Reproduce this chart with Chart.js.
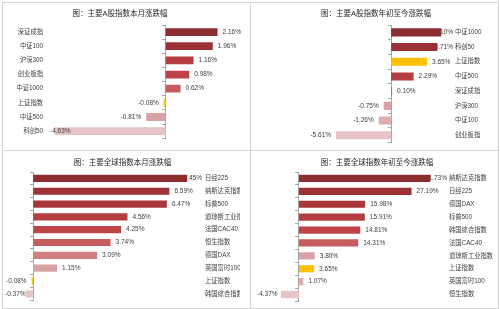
<!DOCTYPE html>
<html><head><meta charset="utf-8">
<script src="https://cdn.jsdelivr.net/npm/chart.js@4.4.0/dist/chart.umd.min.js"></script>
<style>
html,body{margin:0;padding:0;background:#fff;width:500px;height:309px;overflow:hidden;position:relative}
canvas{position:absolute}
.frame{position:absolute;left:2px;top:2px;width:495px;height:305px;border:1px solid #d4d4d4}
.vl{position:absolute;left:250px;top:2px;width:1px;height:306px;background:#d4d4d4}
.hl{position:absolute;left:2px;top:150px;width:496px;height:1px;background:#d4d4d4}
</style></head><body>
<div class="frame"></div><div class="vl"></div><div class="hl"></div>
<canvas id="c1" width="246" height="146" style="left:3px;top:3px"></canvas>
<canvas id="c2" width="246" height="146" style="left:251px;top:3px"></canvas>
<canvas id="c3" width="249" height="156" style="left:3px;top:151px"></canvas>
<canvas id="c4" width="246" height="156" style="left:251px;top:151px"></canvas>
<script>
// ---- data ----
const aMonthTitle = '图：主要A股指数本月涨跌幅';
const aMonthLabels = ['深证成指','中证100','沪深300','创业板指','中证1000','上证指数','中证500','科创50'];
const aMonthValues = [2.16, 1.96, 1.16, 0.98, 0.62, -0.08, -0.81, -4.63];

const aYtdTitle = '图：主要A股指数年初至今涨跌幅';
const aYtdLabels = ['中证1000','科创50','上证指数','中证500','深证成指','沪深300','中证100','创业板指'];
const aYtdValues = [5.10, 4.71, 3.65, 2.29, 0.10, -0.75, -1.26, -5.61];

const gMonthTitle = '图：主要全球指数本月涨跌幅';
const gMonthLabels = ['日经225','纳斯达克指数','标普500','道琼斯工业指数','法国CAC40','恒生指数','德国DAX','英国富时100','上证指数','韩国综合指数'];
const gMonthValues = [7.45, 6.59, 6.47, 4.56, 4.25, 3.74, 3.09, 1.15, -0.08, -0.37];

const gYtdTitle = '图：主要全球指数年初至今涨跌幅';
const gYtdLabels = ['纳斯达克指数','日经225','德国DAX','标普500','韩国综合指数','法国CAC40','道琼斯工业指数','上证指数','英国富时100','恒生指数'];
const gYtdValues = [31.73, 27.19, 15.98, 15.91, 14.81, 14.31, 3.80, 3.65, 1.07, -4.37];

// ---- styles ----
const aMonthColors = ['#8C2D30','#9C3236','#B33D40','#BE4447','#C75C5F','#FFC000','#D9A3A5','#E6C3C4'];
const aYtdColors   = ['#8C2D30','#9C3236','#FFC000','#B33D40','#C75C5F','#D9A3A5','#DDADAF','#E6C3C4'];
const gMonthColors = ['#8C2D30','#9C3236','#A8373B','#B33D40','#BE4447','#C75C5F','#D07F81','#D9A3A5','#FFC000','#E6C3C4'];
const gYtdColors   = ['#8C2D30','#9C3236','#A8373B','#B33D40','#BE4447','#C75C5F','#D9A3A5','#FFC000','#DDADAF','#E6C3C4'];

const FONT = "'Liberation Sans', 'Noto Sans CJK SC', sans-serif";
const TEXT = '#404040';

function drawValues(chart, opts) {
  const ctx = chart.ctx, area = chart.chartArea;
  const meta = chart.getDatasetMeta(0);
  const data = chart.data.datasets[0].data;
  const clampL = opts.clamp === 'left' || opts.clamp === 'both';
  const clampR = opts.clamp === 'right' || opts.clamp === 'both';
  ctx.save();
  ctx.font = '6.5px ' + FONT;
  ctx.fillStyle = TEXT;
  ctx.textBaseline = 'middle';
  ctx.textAlign = 'left';
  meta.data.forEach((el, i) => {
    const v = data[i];
    const t = v.toFixed(2) + '%';
    const w = ctx.measureText(t).width;
    let left;
    if (v >= 0) {
      left = el.x + 5;
      if (clampR && left + w > area.right) left = area.right - w;
    } else {
      left = el.x - 5 - w;
      if (clampL && left < area.left) left = area.left;
    }
    ctx.fillText(t, left, el.y);
  });
  ctx.restore();
}
const valueLabels = {
  id: 'valueLabels',
  beforeDatasetsDraw(chart, args, opts) { if (opts.under) drawValues(chart, opts); },
  afterDatasetsDraw(chart, args, opts) { if (!opts.under) drawValues(chart, opts); }
};

function makeChart(id, cfg) {
  return new Chart(document.getElementById(id), {
    type: 'bar',
    data: {
      labels: cfg.labels,
      datasets: [{
        data: cfg.values,
        backgroundColor: cfg.colors,
        borderWidth: 0,
        xAxisID: 'x', yAxisID: 'y',
        barPercentage: cfg.barPct,
        categoryPercentage: 1
      }]
    },
    options: {
      indexAxis: 'y',
      responsive: false,
      animation: false,
      events: [],
      layout: { padding: cfg.padding },
      scales: {
        x: { type: 'linear', display: false, min: cfg.min, max: cfg.max },
        y: {
          type: 'category', axis: 'y', position: { x: 0 }, offset: true,
          grid: { display: true, drawOnChartArea: false, drawTicks: true, tickLength: 3, offset: true, color: '#a6a6a6' },
          border: { display: true, color: '#a6a6a6', width: 1 },
          ticks: { display: false }
        },
        yl: {
          type: 'category', axis: 'y', position: cfg.labelSide, offset: true,
          grid: { display: false, drawTicks: false },
          border: { display: false },
          ticks: { color: TEXT, font: { size: 6.3, family: FONT }, padding: cfg.tickPad, crossAlign: 'near', autoSkip: false },
          afterFit(scale) { scale.width = cfg.axisWidth; }
        }
      },
      plugins: {
        legend: { display: false },
        tooltip: { enabled: false },
        title: {
          display: true, text: cfg.title, color: '#262626',
          font: { size: 7.5, family: FONT, weight: 'normal' },
          padding: cfg.titlePad
        },
        valueLabels: { under: cfg.under, clamp: cfg.clamp }
      }
    },
    plugins: [valueLabels]
  });
}

makeChart('c1', {
  labels: aMonthLabels, values: aMonthValues, colors: aMonthColors, title: aMonthTitle,
  min: -4.821, max: 2.971, padding: { left: 0, right: 12, top: 0, bottom: 6.4 },
  labelSide: 'left', axisWidth: 47, tickPad: 7, titlePad: { top: 6.5, bottom: 6.5 },
  barPct: 0.55, under: false, clamp: 'left'
});
makeChart('c2', {
  labels: aYtdLabels, values: aYtdValues, colors: aYtdColors, title: aYtdTitle,
  min: -13.86, max: 6.30, padding: { left: 4, right: 0, top: 0, bottom: 6.4 },
  labelSide: 'right', axisWidth: 44, tickPad: 2, titlePad: { top: 6.5, bottom: 6.5 },
  barPct: 0.55, under: true, clamp: 'right'
});
makeChart('c3', {
  labels: gMonthLabels, values: gMonthValues, colors: gMonthColors, title: gMonthTitle,
  min: -1.370, max: 8.169, padding: { left: 2, right: 12, top: 0, bottom: 6 },
  labelSide: 'right', axisWidth: 38, tickPad: 3, titlePad: { top: 7, bottom: 5 },
  barPct: 0.56, under: true, clamp: 'both'
});
makeChart('c4', {
  labels: gYtdLabels, values: gYtdValues, colors: gYtdColors, title: gYtdTitle,
  min: -10.14, max: 35.75, padding: { left: 6, right: 0, top: 0, bottom: 6 },
  labelSide: 'right', axisWidth: 50, tickPad: 2, titlePad: { top: 7, bottom: 5 },
  barPct: 0.56, under: true, clamp: 'both'
});
</script>
</body></html>
